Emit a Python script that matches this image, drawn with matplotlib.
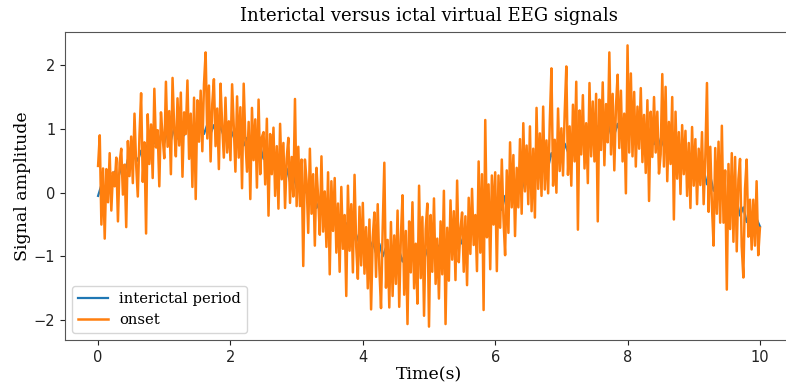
import numpy as np
import matplotlib
matplotlib.use("Agg")
import matplotlib.pyplot as plt

# Interictal period (201 samples over 0..10 s)
interictal = [
    -0.05, 0.12, 0.04, 0.24, 0.16, 0.33, 0.22, 0.40, 0.31, 0.52,
    0.41, 0.60, 0.50, 0.66, 0.58, 0.76, 0.65, 0.82, 0.70, 0.90,
    0.78, 0.98, 0.82, 1.02, 0.85, 1.05, 0.90, 1.10, 0.92, 1.08,
    0.93, 1.10, 0.92, 1.07, 0.93, 1.06, 0.89, 1.04, 0.88, 1.02,
    0.84, 0.97, 0.79, 0.93, 0.74, 0.86, 0.68, 0.80, 0.60, 0.73,
    0.53, 0.64, 0.45, 0.56, 0.36, 0.47, 0.26, 0.38, 0.17, 0.28,
    0.07, 0.18, -0.04, 0.07, -0.14, -0.02, -0.24, -0.12, -0.35, -0.22,
    -0.43, -0.30, -0.53, -0.40, -0.61, -0.48, -0.69, -0.57, -0.77, -0.63,
    -0.84, -0.71, -0.90, -0.77, -0.95, -0.80, -1.00, -0.86, -1.03, -0.89,
    -1.06, -0.91, -1.08, -0.92, -1.09, -0.93, -1.08, -0.91, -1.07, -0.89,
    -1.05, -0.86, -1.01, -0.83, -0.97, -0.78, -0.92, -0.72, -0.86, -0.66,
    -0.80, -0.59, -0.72, -0.51, -0.64, -0.43, -0.55, -0.34, -0.46, -0.25,
    -0.37, -0.15, -0.27, -0.05, -0.17, 0.05, -0.07, 0.15, 0.03, 0.25,
    0.13, 0.34, 0.22, 0.44, 0.31, 0.53, 0.40, 0.62, 0.49, 0.70,
    0.57, 0.77, 0.64, 0.84, 0.70, 0.90, 0.76, 0.96, 0.81, 1.00,
    0.85, 1.04, 0.88, 1.06, 0.90, 1.08, 0.91, 1.08, 0.91, 1.07,
    0.90, 1.06, 0.88, 1.04, 0.85, 1.00, 0.81, 0.95, 0.76, 0.90,
    0.71, 0.84, 0.64, 0.78, 0.57, 0.70, 0.49, 0.62, 0.41, 0.54,
    0.32, 0.45, 0.23, 0.36, 0.13, 0.26, 0.03, 0.16, -0.07, 0.06,
    -0.17, -0.03, -0.26, -0.13, -0.36, -0.23, -0.46, -0.32, -0.55, -0.41,
    -0.53,
]

# Onset (401 samples over 0..10 s)
onset = [
    0.42, 0.90, -0.50, 0.38, -0.72, 0.37, -0.15, 0.62, -0.28, 0.32,
    0.10, 0.55, -0.45, 0.47, 0.69, -0.03, 0.44, -0.54, 0.81, 0.26,
    0.88, 0.15, 1.24, 0.44, -0.06, 0.89, 1.56, 0.17, 0.79, -0.64,
    1.23, 0.45, 1.07, 0.23, 1.63, 0.71, 0.98, 0.10, 1.26, 0.88,
    0.54, 1.74, 0.72, 1.28, 0.29, 1.80, 1.01, 0.57, 1.48, 0.74,
    1.57, 0.25, 1.26, 0.92, 1.76, 0.53, 1.24, 0.09, 1.49, -0.10,
    1.45, 0.80, 1.60, 0.65, 1.70, 2.20, 0.85, 1.68, 0.49, 1.39,
    1.78, 0.73, 1.32, 0.37, 1.71, 1.06, 0.55, 1.49, 0.63, 1.12,
    0.51, 1.70, 1.04, 0.33, 1.51, 0.55, 1.34, 0.07, 1.71, 0.84,
    0.33, 1.11, -0.10, 1.33, 0.51, 1.15, 0.08, 1.46, 0.29, 0.87,
    0.95, 0.13, 1.16, -0.36, 0.92, 0.29, 1.02, -0.05, 0.73, -0.25,
    1.08, 0.21, 0.78, -0.24, 0.54, 0.86, -0.16, 0.56, -0.06, 1.47,
    -0.21, 0.72, -0.21, 0.52, -1.15, 0.52, 0.19, -0.63, 0.69, -0.33,
    0.29, -0.83, 0.39, -0.08, -0.66, 0.57, -0.61, 0.02, -0.85, 0.32,
    -1.28, 0.18, -0.60, 0.23, -0.94, -0.17, -1.24, 0.09, -0.88, -0.35,
    -1.62, 0.11, -0.91, -0.18, -1.25, 0.28, -0.84, -1.35, -0.22, -1.14,
    -0.16, -1.27, -0.54, -1.50, -0.42, -1.83, -0.70, -0.31, -1.32, -0.18,
    -1.19, -1.81, -0.57, 0.47, -1.49, -0.74, -1.80, -0.46, -1.62, -0.67,
    -1.43, -0.28, -1.79, -0.69, -0.04, -1.60, -0.60, -2.06, -0.45, -1.25,
    -0.15, -1.50, -0.80, -1.74, 0.11, -1.34, -0.38, -1.93, -0.57, -0.17,
    -2.10, -0.35, -1.24, -0.09, -1.43, -0.72, -1.66, -0.45, -1.28, 0.03,
    -2.06, -0.55, -1.38, -0.12, -1.05, -0.29, -1.37, 0.19, -1.09, -0.58,
    -0.31, -1.24, -0.37, -1.45, -0.08, -0.96, 0.06, -0.82, -0.35, -1.23,
    0.49, -0.94, 0.29, -1.84, 1.14, -0.70, 0.13, -1.20, 0.27, -0.50,
    0.32, -1.23, 0.27, -0.55, 0.52, -0.40, -0.98, 0.35, -0.63, 0.79,
    -0.23, 0.59, -0.68, 0.39, -0.23, 0.84, -0.33, 1.09, 0.02, 0.74,
    -0.18, 1.04, -0.29, 0.69, -0.39, 1.33, 0.06, 0.93, -0.05, 1.35,
    0.05, 0.82, -0.01, 1.11, 1.95, 0.11, 0.83, 0.00, 1.32, 0.34,
    1.01, 0.27, 1.24, 1.98, 0.28, 1.04, 0.11, 1.38, 0.49, 1.74,
    -0.58, 1.29, 0.60, 1.53, 0.38, 1.09, 0.15, 1.72, 0.57, 1.43,
    0.49, 1.55, -0.45, 1.46, 0.67, 1.73, 0.43, 1.39, 0.79, 2.20,
    0.60, 1.55, 0.35, 1.35, 1.85, 0.70, 1.60, 0.49, 1.24, -0.01,
    2.31, 0.63, 1.87, 0.57, 1.58, 0.41, 1.35, 0.69, 1.64, 0.48,
    1.22, 0.31, 1.45, -0.13, 1.27, 0.56, 1.50, 0.63, 1.27, 0.30,
    0.60, 1.86, 0.41, 1.66, 0.18, 1.11, 0.45, 1.50, -0.42, 1.27,
    0.22, 0.95, -0.02, 1.06, 0.29, 0.97, -0.05, 0.78, -0.24, 1.03,
    0.11, 0.84, -0.18, 0.69, 0.12, 0.95, -0.18, 0.55, 1.72, -0.30,
    0.72, -0.20, -0.83, 0.70, -0.33, 0.80, -0.47, 1.05, -0.47, 0.35,
    -1.52, 0.45, -0.57, 0.62, -0.77, 0.56, -0.92, 0.21, 0.53, -0.84,
    -1.33, 0.06, 0.52, -0.69, -0.11, -0.89, -0.11, -0.83, 0.18, -0.98,
    -0.55,
]

t_start, t_end = 0.0, 10.0
series_labels = ["interictal period", "onset"]
title_text = "Interictal versus ictal virtual EEG signals"
xlabel_text = "Time(s)"
ylabel_text = "Signal amplitude"

t_inter = np.linspace(t_start, t_end, len(interictal))
t_onset = np.linspace(t_start, t_end, len(onset))

serif_font = ["DejaVu Serif"]

fig = plt.figure(figsize=(7.86, 3.88), dpi=100)
# axes runs slightly past the right edge of the canvas (reference is cropped)
ax = fig.add_axes([65 / 786, 48 / 388, 728 / 786, 308 / 388])
ax.plot(t_inter, interictal, color="#1f77b4", lw=1.6, label=series_labels[0])
ax.plot(t_onset, onset, color="#ff7f0e", lw=1.8, label=series_labels[1])

ax.set_xlim(-0.5, 10.5)
ax.set_ylim(-2.31, 2.52)
ax.set_xticks([0, 2, 4, 6, 8, 10])
ax.set_yticks([-2, -1, 0, 1, 2])
ax.tick_params(labelsize=10.5, colors="#222222")
for s in ax.spines.values():
    s.set_color("#555555")

ax.set_title(title_text, family=serif_font, fontsize=13, pad=8)
ax.set_xlabel(xlabel_text, family=serif_font, fontsize=12.5, labelpad=1)
ax.set_ylabel(ylabel_text, family=serif_font, fontsize=12.5, labelpad=2)

leg = ax.legend(loc="lower left", prop={"family": serif_font, "size": 10.6},
                handlelength=2.0, borderaxespad=0.5, labelspacing=0.45)

fig.savefig("out.png", dpi=100)
